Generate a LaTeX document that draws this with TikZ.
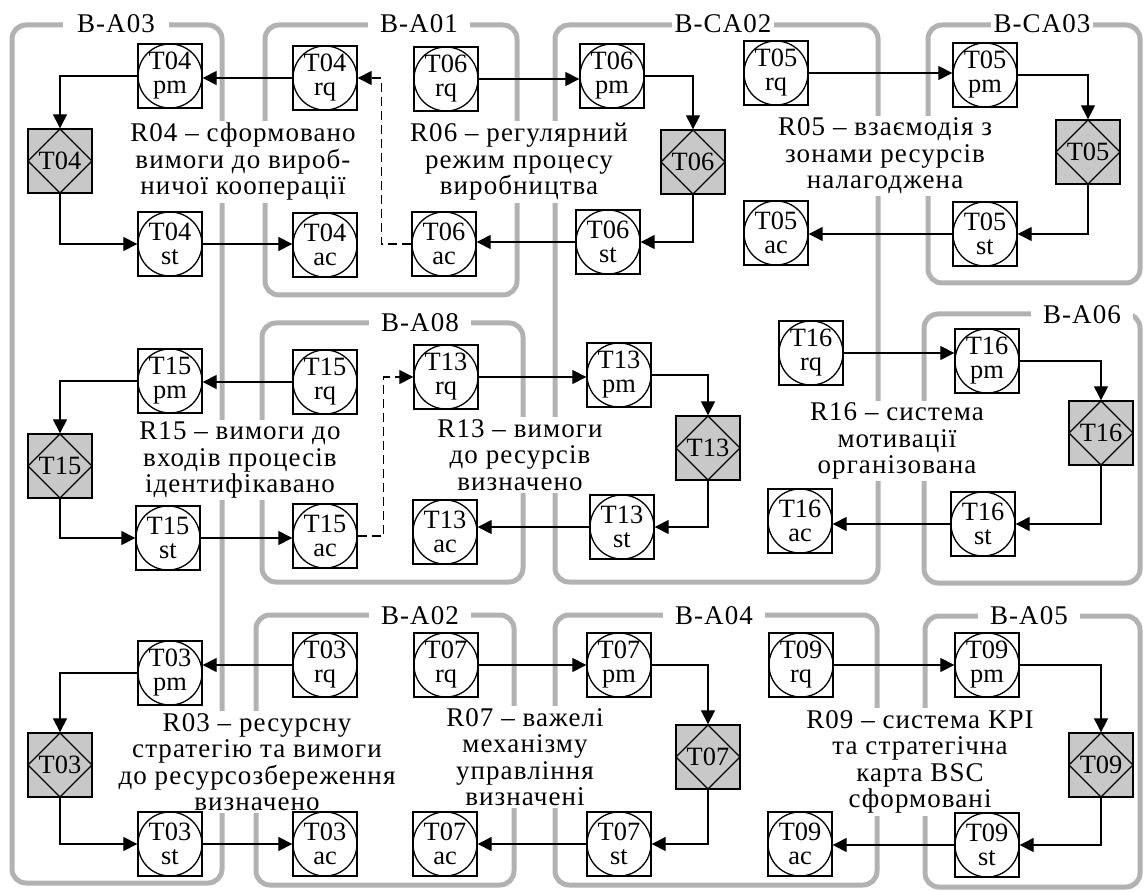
\documentclass[tikz,border=0pt]{standalone}
\usepackage{fontspec}
\setmainfont{Liberation Serif}
\newfontfamily\spfont[LetterSpace=4]{Liberation Serif}
\usetikzlibrary{arrows.meta}
\definecolor{boxgray}{RGB}{178,178,178}
\definecolor{dfill}{RGB}{200,200,200}
\begin{document}
\begin{tikzpicture}[x=0.5pt,y=-0.5pt,
  tn/.style={draw, line width=0.65pt, minimum size=32pt, inner sep=0pt, align=center,
    font=\fontsize{13.2}{12}\selectfont,
    path picture={\draw[line width=0.65pt] (path picture bounding box.center) circle[radius=16pt];}},
  dn/.style={draw, line width=0.65pt, fill=dfill, minimum size=32pt, inner sep=0pt,
    font=\fontsize{13.2}{12}\selectfont,
    path picture={\draw[line width=0.65pt] (path picture bounding box.north) -- (path picture bounding box.east) -- (path picture bounding box.south) -- (path picture bounding box.west) -- cycle;}},
  cont/.style={draw=boxgray, line width=2.5pt, rounded corners=7pt},
  ctitle/.style={fill=white, inner ysep=1pt, inner xsep=6pt, font=\fontsize{13.5}{13}\spfont},
  rtext/.style={fill=white, inner xsep=2pt, inner ysep=1pt, align=center, font=\fontsize{13.5}{13.25}\spfont},
  arr/.style={-{Triangle[length=7pt,width=7pt]}, line width=0.55pt},
  dsh/.style={dash pattern=on 4.5pt off 2.5pt},
]
\useasboundingbox (0,0) rectangle (1144,892);
% containers
\draw[cont] (12,25) rectangle (222,883);
\draw[cont] (265,25) rectangle (517,295);
\draw[cont] (555,25) rectangle (878,582);
\draw[cont] (928,25) rectangle (1140,283);
\draw[cont] (262,323) rectangle (523,582);
\draw[cont] (924,314) rectangle (1140,583);
\draw[cont] (256,615) rectangle (514,885);
\draw[cont] (555,615) rectangle (877,885);
\draw[cont] (925,616) rectangle (1140,887);
% container titles
\node[ctitle, inner xsep=7pt] (lBA03) at (116,24) {B-A03};
\node[ctitle] (lBA01) at (419,24) {B-A01};
\node[ctitle, inner xsep=1.5pt] (lBCA02) at (723,24) {B-CA02};
\node[ctitle, inner xsep=1.5pt] (lBCA03) at (1042,24) {B-CA03};
\node[ctitle] (lBA08) at (420,323) {B-A08};
\node[ctitle] (lBA06) at (1082,315) {B-A06};
\node[ctitle] (lBA02) at (420,616) {B-A02};
\node[ctitle] (lBA04) at (714,616) {B-A04};
\node[ctitle] (lBA05) at (1029,616) {B-A05};
% result texts
\node[rtext] (R04) at (243,162) {R04 – сформовано\\вимоги до вироб-\\ничої кооперації};
\node[rtext] (R06) at (519,162) {R06 – регулярний\\режим процесу\\виробництва};
\node[rtext] (R05) at (885,156) {R05 – взаємодія з\\зонами ресурсів\\налагоджена};
\node[rtext] (R15) at (240,460) {R15 – вимоги до\\входів процесів\\ідентифікавано};
\node[rtext] (R13) at (520,455) {R13 – вимоги\\до ресурсів\\визначено};
\node[rtext] (R16) at (897,441) {R16 – система\\мотивації\\організована};
\node[rtext] (R03) at (257,762) {R03 – ресурсну\\стратегію та вимоги\\до ресурсозбереження\\визначено};
\node[rtext] (R07) at (525,757) {R07 – важелі\\механізму\\управління\\визначені};
\node[rtext] (R09) at (920,762) {R09 – система KPI\\та стратегічна\\карта BSC\\сформовані};
% row 1 nodes
\node[tn] (T04pm) at (170,76) {T04\\pm};
\node[dn] (T04d) at (60,161) {T04};
\node[tn] (T04st) at (170,244) {T04\\st};
\node[tn] (T04rq) at (325,78) {T04\\rq};
\node[tn] (T04ac) at (325,245) {T04\\ac};
\node[tn] (T06rq) at (446,79) {T06\\rq};
\node[tn] (T06ac) at (444,244) {T06\\ac};
\node[tn] (T06pm) at (612,76) {T06\\pm};
\node[dn] (T06d) at (693,162) {T06};
\node[tn] (T06st) at (608,242) {T06\\st};
\node[tn] (T05rq) at (776,73) {T05\\rq};
\node[tn] (T05ac) at (776,233) {T05\\ac};
\node[tn] (T05pm) at (985,75) {T05\\pm};
\node[dn] (T05d) at (1088,152) {T05};
\node[tn] (T05st) at (985,234) {T05\\st};
% row 2 nodes
\node[tn] (T15pm) at (170,381) {T15\\pm};
\node[dn] (T15d) at (60,466) {T15};
\node[tn] (T15st) at (168,538) {T15\\st};
\node[tn] (T15rq) at (325,382) {T15\\rq};
\node[tn] (T15ac) at (325,536) {T15\\ac};
\node[tn] (T13rq) at (446,377) {T13\\rq};
\node[tn] (T13ac) at (445,532) {T13\\ac};
\node[tn] (T13pm) at (619,375) {T13\\pm};
\node[dn] (T13d) at (708,448) {T13};
\node[tn] (T13st) at (622,527) {T13\\st};
\node[tn] (T16rq) at (811,353) {T16\\rq};
\node[tn] (T16ac) at (800,521) {T16\\ac};
\node[tn] (T16pm) at (987,361) {T16\\pm};
\node[dn] (T16d) at (1101,433) {T16};
\node[tn] (T16st) at (983,524) {T16\\st};
% row 3 nodes
\node[tn] (T03pm) at (170,673) {T03\\pm};
\node[dn] (T03d) at (60,765) {T03};
\node[tn] (T03st) at (170,844) {T03\\st};
\node[tn] (T03rq) at (325,665) {T03\\rq};
\node[tn] (T03ac) at (325,844) {T03\\ac};
\node[tn] (T07rq) at (446,665) {T07\\rq};
\node[tn] (T07ac) at (445,844) {T07\\ac};
\node[tn] (T07pm) at (619,665) {T07\\pm};
\node[dn] (T07d) at (708,757) {T07};
\node[tn] (T07st) at (619,844) {T07\\st};
\node[tn] (T09rq) at (801,665) {T09\\rq};
\node[tn] (T09ac) at (800,844) {T09\\ac};
\node[tn] (T09pm) at (987,665) {T09\\pm};
\node[dn] (T09d) at (1101,765) {T09};
\node[tn] (T09st) at (987,845) {T09\\st};
% row 1 connectors
\draw[arr] (T04rq.west) -- (T04rq.west -| T04pm.east);
\draw[arr] (T04pm.west) -| (T04d.north);
\draw[arr] (T04d.south) |- (T04st.west);
\draw[arr] (T04st.east) -- (T04st.east -| T04ac.west);
\draw[arr,dsh] (T06ac.west) -- ++(-30,0) |- (T04rq.east);
\draw[arr] (T06rq.east) -- (T06rq.east -| T06pm.west);
\draw[arr] (T06pm.east) -| (T06d.north);
\draw[arr] (T06d.south) |- (T06st.east);
\draw[arr] (T06st.west) -- (T06st.west -| T06ac.east);
\draw[arr] (T05rq.east) -- (T05rq.east -| T05pm.west);
\draw[arr] (T05pm.east) -| (T05d.north);
\draw[arr] (T05d.south) |- (T05st.east);
\draw[arr] (T05st.west) -- (T05st.west -| T05ac.east);
% row 2 connectors
\draw[arr] (T15rq.west) -- (T15rq.west -| T15pm.east);
\draw[arr] (T15pm.west) -| (T15d.north);
\draw[arr] (T15d.south) |- (T15st.west);
\draw[arr] (T15st.east) -- (T15st.east -| T15ac.west);
\draw[arr,dsh] (T15ac.east) -- ++(26,0) |- (T13rq.west);
\draw[arr] (T13rq.east) -- (T13rq.east -| T13pm.west);
\draw[arr] (T13pm.east) -| (T13d.north);
\draw[arr] (T13d.south) |- (T13st.east);
\draw[arr] (T13st.west) -- (T13st.west -| T13ac.east);
\draw[arr] (T16rq.east) -- (T16rq.east -| T16pm.west);
\draw[arr] (T16pm.east) -| (T16d.north);
\draw[arr] (T16d.south) |- (T16st.east);
\draw[arr] (T16st.west) -- (T16st.west -| T16ac.east);
% row 3 connectors
\draw[arr] (T03rq.west) -- (T03rq.west -| T03pm.east);
\draw[arr] (T03pm.west) -| (T03d.north);
\draw[arr] (T03d.south) |- (T03st.west);
\draw[arr] (T03st.east) -- (T03st.east -| T03ac.west);
\draw[arr] (T07rq.east) -- (T07rq.east -| T07pm.west);
\draw[arr] (T07pm.east) -| (T07d.north);
\draw[arr] (T07d.south) |- (T07st.east);
\draw[arr] (T07st.west) -- (T07st.west -| T07ac.east);
\draw[arr] (T09rq.east) -- (T09rq.east -| T09pm.west);
\draw[arr] (T09pm.east) -| (T09d.north);
\draw[arr] (T09d.south) |- (T09st.east);
\draw[arr] (T09st.west) -- (T09st.west -| T09ac.east);
\end{tikzpicture}
\end{document}
